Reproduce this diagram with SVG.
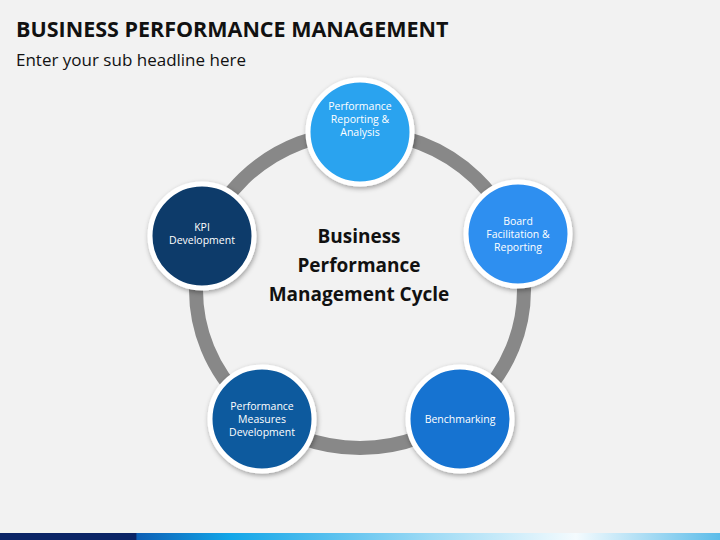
<svg xmlns="http://www.w3.org/2000/svg" width="720" height="540" viewBox="0 0 720 540">
<defs>
<linearGradient id="bar" x1="0" x2="1" y1="0" y2="0">
<stop offset="0" stop-color="#0b2466"/><stop offset="0.189" stop-color="#0b2466"/>
<stop offset="0.19" stop-color="#0d5fb5"/><stop offset="0.32" stop-color="#12a6e8"/>
<stop offset="0.6" stop-color="#9fdbf5"/><stop offset="0.8" stop-color="#f4fbfe"/>
<stop offset="1" stop-color="#5cbce9"/></linearGradient>
<filter id="sh" x="-30%" y="-30%" width="160%" height="160%"><feDropShadow dx="1" dy="2" stdDeviation="2.5" flood-opacity="0.35"/></filter>
</defs>
<style>
.n{stroke:#fff;stroke-width:5;filter:url(#sh)}
.t{font-family:"Open Sans","Liberation Sans",sans-serif;font-size:10.5px;fill:#fff;text-anchor:middle}
</style>
<rect width="720" height="540" fill="#f2f2f2"/>
<text x="16" y="37" font-family="'Open Sans','Liberation Sans',sans-serif" font-weight="bold" font-size="21.5" fill="#111">BUSINESS PERFORMANCE MANAGEMENT</text>
<text x="16" y="66" font-family="'Open Sans','Liberation Sans',sans-serif" font-size="17" fill="#111">Enter your sub headline here</text>
<g id="connectors"><ellipse cx="360" cy="290" rx="164" ry="158" fill="none" stroke="#888" stroke-width="14"/></g>
<g id="center"><text font-family="'Open Sans','Liberation Sans',sans-serif" font-weight="bold" font-size="19" fill="#111" text-anchor="middle"><tspan x="359" y="243">Business</tspan><tspan x="359" y="272">Performance</tspan><tspan x="359" y="301">Management Cycle</tspan></text></g>
<g id="n1"><circle class="n" cx="360" cy="132" r="52" fill="#2aa3ef"/><text class="t"><tspan x="360" y="110">Performance</tspan><tspan x="360" y="123">Reporting &amp;</tspan><tspan x="360" y="136">Analysis</tspan></text></g>
<g id="n2"><circle class="n" cx="518" cy="234" r="52" fill="#2f8ff0"/><text class="t"><tspan x="518" y="225">Board</tspan><tspan x="518" y="238">Facilitation &amp;</tspan><tspan x="518" y="251">Reporting</tspan></text></g>
<g id="n3"><circle class="n" cx="460" cy="419" r="52" fill="#1673d1"/><text class="t"><tspan x="460" y="423">Benchmarking</tspan></text></g>
<g id="n4"><circle class="n" cx="262" cy="419" r="52" fill="#0f5a9e"/><text class="t"><tspan x="262" y="410">Performance</tspan><tspan x="262" y="423">Measures</tspan><tspan x="262" y="436">Development</tspan></text></g>
<g id="n5"><circle class="n" cx="202" cy="236" r="52" fill="#0b3b6b"/><text class="t"><tspan x="202" y="231">KPI</tspan><tspan x="202" y="244">Development</tspan></text></g>
<rect x="0" y="533" width="720" height="7" fill="url(#bar)"/>
</svg>
